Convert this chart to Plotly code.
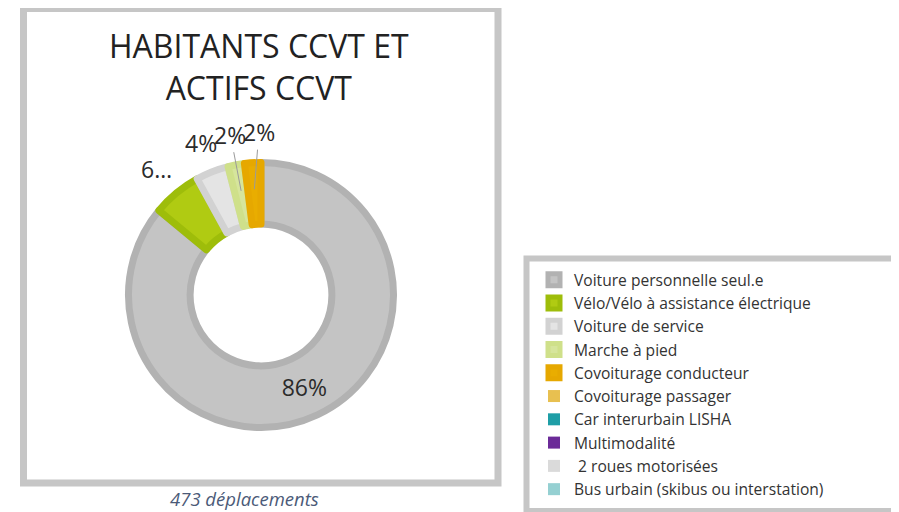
import math
import plotly.graph_objects as go

labels = ["Voiture personnelle seul.e", "Vélo/Vélo à assistance électrique", "Voiture de service",
          "Marche à pied", "Covoiturage conducteur", "Covoiturage passager", "Car interurbain LISHA",
          "Multimodalité", " 2 roues motorisées", "Bus urbain (skibus ou interstation)"]
values = [86, 6, 4, 2, 2, 0, 0, 0, 0, 0]
slice_text = ["86%", "6…", "4%", "2%", "2%", "", "", "", "", ""]
fill_colors = ["#c4c4c4", "#b0cb12", "#e4e4e4", "#d6e59c", "#e9ad00", "#e8c050", "#1e9ea6", "#6b2b98", "#dadada", "#95d0d2"]
edge_colors = ["#b2b2b2", "#9ebd0a", "#d2d2d2", "#cfe08a", "#e6a800", "#e0b840", "#1a9098", "#5e2388", "#cfcfcf", "#88c6c8"]
title_lines = ["HABITANTS CCVT ET", "ACTIFS CCVT"]
caption = "473 déplacements"

W, H = 899, 512
cx, cy, r = 253, 287, 132.5   # pie centre / radius in figure pixels
hole = 0.535
edge_w = 7
label_size = 23


def px(x):
    return x / W


def py(y):
    return 1 - y / H


fig = go.Figure()
fig.add_trace(go.Pie(
    labels=labels, values=values, text=slice_text, textinfo="text",
    textposition=["inside"] + ["none"] * (len(values) - 1),
    insidetextorientation="horizontal",
    hole=hole, sort=False, direction="clockwise", rotation=0,
    marker=dict(colors=fill_colors,
                line=dict(color=edge_colors, width=[edge_w if v > 0 else 0 for v in values])),
    textfont=dict(size=label_size, color="#2b2b2b", family="Open Sans"),
    domain=dict(x=[px(cx - r), px(cx + r)], y=[py(cy + r), py(cy - r)]),
    showlegend=True, hoverinfo="label+percent",
))

# outside labels derived from the slice angles, with a simple left-to-right de-overlap
annotations = []
total = sum(values)
cum = 0.0
placed = []
r_vis = r + edge_w / 2
for v, t in zip(values, slice_text):
    start = cum / total * 360
    cum += v
    end = cum / total * 360
    if v == 0 or t == "" or t == slice_text[0]:
        continue
    mid = math.radians((start + end) / 2)
    lx = cx + 1.2 * r_vis * math.sin(mid)
    ly = cy - 1.2 * r_vis * math.cos(mid)
    w = len(t) * 0.62 * label_size
    if placed:
        plx, ply, pw = placed[-1]
        need = (pw + w) / 2
        if abs(ly - ply) < 22 and lx - plx < need:
            lx = plx + need
    placed.append((lx, ly, w))
    if v <= 2:
        tx = cx + 0.8 * r * math.sin(mid)
        ty = cy - 0.8 * r * math.cos(mid)
        annotations.append(dict(text=t, x=px(tx), y=py(ty), xref="paper", yref="paper",
                                showarrow=True, arrowhead=0, arrowwidth=1, arrowcolor="#9a9a9a",
                                ax=lx - tx, ay=ly - ty, standoff=0,
                                font=dict(size=label_size, color="#2b2b2b", family="Open Sans")))
    else:
        annotations.append(dict(text=t, x=px(lx), y=py(ly), xref="paper", yref="paper",
                                showarrow=False, xanchor="center", yanchor="middle",
                                font=dict(size=label_size, color="#2b2b2b", family="Open Sans")))

annotations.append(dict(text="<br>".join(title_lines), x=px(251), y=py(58.5), xref="paper", yref="paper",
                        showarrow=False, xanchor="center", yanchor="middle",
                        font=dict(size=32, color="#222222", family="Open Sans")))
annotations.append(dict(text="<i>" + caption + "</i>", x=px(236), y=py(490), xref="paper", yref="paper",
                        showarrow=False, xanchor="center", yanchor="middle",
                        font=dict(size=18.5, color="#4b5a78", family="Open Sans")))

shapes = [
    dict(type="rect", xref="paper", yref="paper", x0=px(15.5), x1=px(490), y0=py(475), y1=py(0.5),
         line=dict(color="#c6c6c6", width=7), fillcolor="rgba(0,0,0,0)", layer="below"),
    dict(type="rect", xref="paper", yref="paper", x0=px(518.5), x1=px(887), y0=py(503), y1=py(250.5),
         line=dict(color="#c6c6c6", width=6), fillcolor="rgba(0,0,0,0)", layer="below"),
]

fig.update_layout(
    width=W, height=H, margin=dict(l=0, r=0, t=0, b=0),
    paper_bgcolor="white", plot_bgcolor="white",
    shapes=shapes, annotations=annotations,
    legend=dict(x=px(526), y=py(255), xanchor="left", yanchor="top",
                font=dict(size=15.6, color="#333333", family="Open Sans"),
                bgcolor="rgba(0,0,0,0)", itemclick=False, traceorder="normal"),
)

fig.write_html("out.html")
